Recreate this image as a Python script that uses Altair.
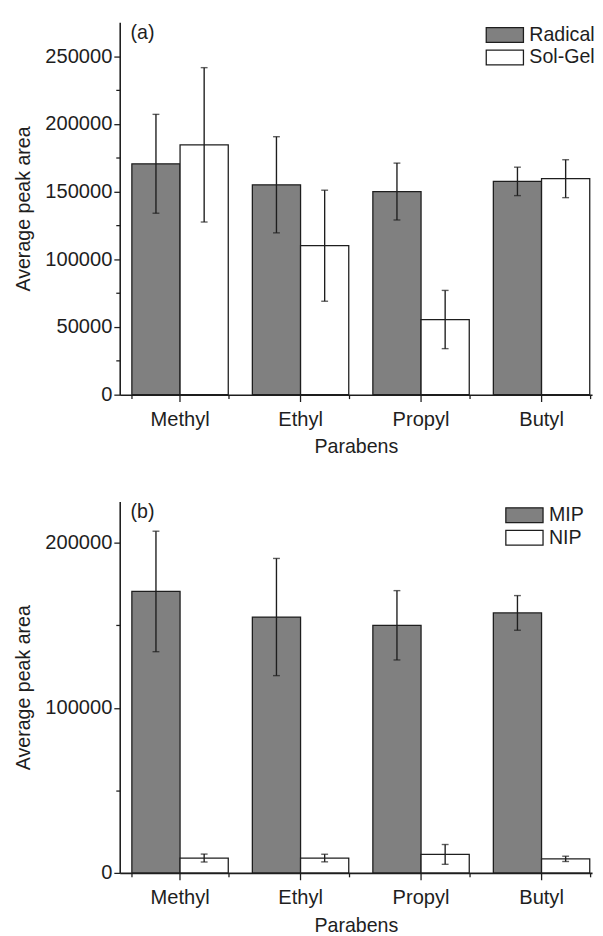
import altair as alt
import pandas as pd

categories = ["Methyl", "Ethyl", "Propyl", "Butyl"]

series_a = ["Radical", "Sol-Gel"]
radical_mean = [170500, 155000, 150000, 157500]
radical_err = [36500, 35500, 21000, 10500]
solgel_mean = [184500, 110000, 55500, 159500]
solgel_err = [57000, 41000, 21500, 14000]

series_b = ["MIP", "NIP"]
mip_mean = [170500, 155000, 150000, 157500]
mip_err = [36500, 35500, 21000, 10500]
nip_mean = [9000, 9000, 11200, 8500]
nip_err = [2400, 2300, 6000, 1600]

y_major_a = [0, 50000, 100000, 150000, 200000, 250000]
y_minor_a = [25000, 75000, 125000, 175000, 225000]
y_major_b = [0, 100000, 200000]
y_minor_b = [50000, 150000]

FONT = "Liberation Sans"
INK = "#1e1e1e"


def make_df(series, means_list, errs_list):
    rows = []
    for s, means, errs in zip(series, means_list, errs_list):
        for c, m, e in zip(categories, means, errs):
            rows.append({"category": c, "series": s, "mean": m, "lo": m - e, "hi": m + e})
    return pd.DataFrame(rows)


def panel(df, series, ymax, major, minor, tag, legend_x, legend_y, height):
    xs = alt.Scale(domain=categories, paddingInner=0.2, paddingOuter=0.06, align=0.84)
    x_main = alt.X("category:N", sort=categories, scale=xs,
                   axis=alt.Axis(title="Parabens", labelAngle=0, tickSize=7,
                                 labelPadding=8, titlePadding=8))
    x_minor = alt.X("category:N", sort=categories, scale=xs,
                    axis=alt.Axis(title=None, labels=False, domain=False,
                                  tickBand="extent", tickSize=4, orient="bottom"))
    x_none = alt.X("category:N", sort=categories, scale=xs, axis=None)
    xo = alt.XOffset("series:N", sort=series,
                     scale=alt.Scale(domain=series, paddingInner=0, paddingOuter=0))
    ys = alt.Scale(domain=[0, ymax], nice=False, zero=True)
    y_main = alt.Y("mean:Q", scale=ys,
                   axis=alt.Axis(values=major, format="d", title="Average peak area",
                                 tickSize=6, labelPadding=2, titlePadding=12))
    y_minor = alt.Y("lo:Q", scale=ys,
                    axis=alt.Axis(values=minor, labels=False, domain=False, title=None,
                                  tickSize=4, orient="left"))
    base = alt.Chart(df)
    bars = base.mark_bar(stroke=INK, strokeWidth=1.3,
                         width=alt.RelativeBandSize(1.0)).encode(
        x=x_main, xOffset=xo, y=y_main,
        fill=alt.Fill("series:N", sort=series,
                      scale=alt.Scale(domain=series, range=["#808080", "#ffffff"]),
                      legend=alt.Legend(title=None, orient="none", legendX=legend_x,
                                        legendY=legend_y, padding=0,
                                        symbolType="M-2.53,-1H2.53V1H-2.53Z",
                                        symbolSize=225, symbolStrokeColor=INK,
                                        symbolStrokeWidth=1.3, labelFont=FONT,
                                        labelFontSize=20, labelColor=INK,
                                        labelOffset=15, rowPadding=1)),
    )
    rules = base.mark_rule(color=INK, strokeWidth=1.4).encode(
        x=x_minor, xOffset=xo, y=y_minor, y2="hi:Q")
    cap_lo = base.mark_tick(color=INK, thickness=1.4, size=7).encode(
        x=x_none, xOffset=xo, y=alt.Y("lo:Q", scale=ys, axis=None))
    cap_hi = base.mark_tick(color=INK, thickness=1.4, size=7).encode(
        x=x_none, xOffset=xo, y=alt.Y("hi:Q", scale=ys, axis=None))
    label = alt.Chart(pd.DataFrame({"tag": [tag]})).mark_text(
        align="left", baseline="top", font=FONT, fontSize=20, color=INK
    ).encode(text="tag:N", x=alt.value(11), y=alt.value(1))
    return alt.layer(bars, rules, cap_lo, cap_hi, label).resolve_axis(
        x="independent", y="independent").properties(width=482, height=height)


df_a = make_df(series_a, [radical_mean, solgel_mean], [radical_err, solgel_err])
df_b = make_df(series_b, [mip_mean, nip_mean], [mip_err, nip_err])

top = panel(df_a, series_a, 275000, y_major_a, y_minor_a, "(a)", 383, 3, 380)
bottom = panel(df_b, series_b, 225000, y_major_b, y_minor_b, "(b)", 403, 4, 379)

chart = alt.vconcat(top, bottom, spacing=45).resolve_scale(
    fill="independent", xOffset="independent"
).properties(
    padding={"left": 5, "top": 5, "right": 0, "bottom": 0}
).configure_view(stroke=None).configure_axis(
    grid=False, domainColor=INK, domainWidth=1.6, tickColor=INK, tickWidth=1.3,
    labelFont=FONT, labelFontSize=20.5, labelColor=INK,
    titleFont=FONT, titleFontSize=20, titleFontWeight="normal", titleColor=INK,
)

chart.save("out.html", embed_options={"renderer": "svg", "actions": False})
